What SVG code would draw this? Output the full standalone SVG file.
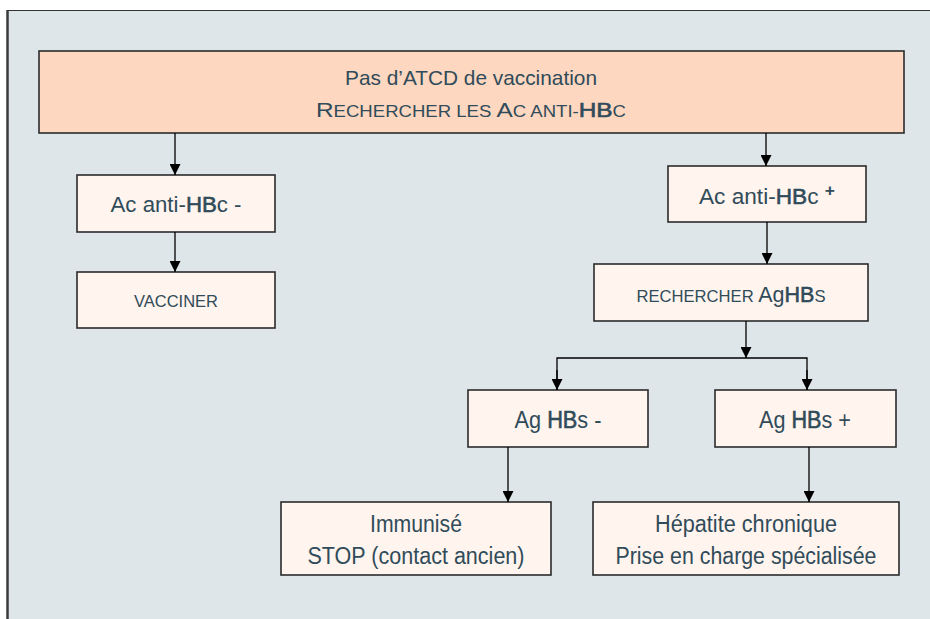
<svg xmlns="http://www.w3.org/2000/svg" width="930" height="619" viewBox="0 0 930 619">
<defs>
<marker id="ah" viewBox="0 0 10 10" refX="10" refY="5" markerWidth="11" markerHeight="11" markerUnits="userSpaceOnUse" orient="auto">
<path d="M0,0 L10,5 L0,10 z" fill="#000"/>
</marker>
</defs>
<style>
.box{fill:#fff4ee;stroke:#2b2b2b;stroke-width:1.6}
.top{fill:#fdd7c0;stroke:#2b2b2b;stroke-width:1.6}
.t{font-family:"Liberation Sans",Arial,sans-serif;fill:#304b59;text-anchor:middle}
.b{stroke:#304b59;stroke-width:0.6}
.c{stroke:#000;stroke-width:1.3;fill:none}
</style>
<rect x="0" y="0" width="930" height="619" fill="#ffffff"/>
<rect x="7" y="10" width="930" height="620" fill="#dfe6e9"/>
<line x1="7" y1="10.5" x2="930" y2="10.5" stroke="#333" stroke-width="1"/>
<line x1="7.5" y1="10" x2="7.5" y2="619" stroke="#3a3a3a" stroke-width="2.5"/>

<g id="node-top">
<rect class="top" x="39" y="51" width="865" height="82"/>
<text class="t" x="471" y="85" font-size="21" textLength="252" lengthAdjust="spacingAndGlyphs">Pas d’ATCD de vaccination</text>
<text class="t" x="471" y="117" font-size="21" textLength="310" lengthAdjust="spacingAndGlyphs">R<tspan font-size="16">ECHERCHER LES </tspan>A<tspan font-size="16">C ANTI-</tspan><tspan class="b">HB</tspan><tspan font-size="16">C</tspan></text>
</g>

<g id="node-ac-neg">
<rect class="box" x="77" y="175" width="198" height="57"/>
<text class="t" x="176" y="212" font-size="22" textLength="131" lengthAdjust="spacingAndGlyphs">Ac anti-<tspan class="b">HB</tspan>c -</text>
</g>

<g id="node-vacciner">
<rect class="box" x="77" y="272" width="198" height="56"/>
<text class="t" x="176" y="307" font-size="17" textLength="84" lengthAdjust="spacingAndGlyphs">VACCINER</text>
</g>

<g id="node-ac-pos">
<rect class="box" x="668" y="166" width="198" height="56"/>
<text class="t" x="767" y="204" font-size="22" textLength="136" lengthAdjust="spacingAndGlyphs">Ac anti-<tspan class="b">HB</tspan>c <tspan font-weight="bold" font-size="17" dy="-8">+</tspan></text>
</g>

<g id="node-rechercher">
<rect class="box" x="594" y="264" width="274" height="57"/>
<text class="t" x="731" y="302" font-size="22" textLength="189" lengthAdjust="spacingAndGlyphs"><tspan font-size="17">RECHERCHER </tspan>Ag<tspan class="b">HB</tspan><tspan font-size="17">S</tspan></text>
</g>

<g id="node-ag-neg">
<rect class="box" x="468" y="390" width="180" height="57"/>
<text class="t" x="558" y="428" font-size="23" textLength="87" lengthAdjust="spacingAndGlyphs">Ag <tspan class="b">HB</tspan>s -</text>
</g>

<g id="node-ag-pos">
<rect class="box" x="715" y="390" width="181" height="57"/>
<text class="t" x="805" y="428" font-size="23" textLength="92" lengthAdjust="spacingAndGlyphs">Ag <tspan class="b">HB</tspan>s +</text>
</g>

<g id="node-immunise">
<rect class="box" x="281" y="502" width="270" height="73"/>
<text class="t" x="416" y="532" font-size="23" textLength="92" lengthAdjust="spacingAndGlyphs">Immunisé</text>
<text class="t" x="416" y="564" font-size="23" textLength="217" lengthAdjust="spacingAndGlyphs">STOP (contact ancien)</text>
</g>

<g id="node-hepatite">
<rect class="box" x="593" y="502" width="306" height="73"/>
<text class="t" x="746" y="532" font-size="23" textLength="182" lengthAdjust="spacingAndGlyphs">Hépatite chronique</text>
<text class="t" x="746" y="564" font-size="23" textLength="261" lengthAdjust="spacingAndGlyphs">Prise en charge spécialisée</text>
</g>

<g id="connectors">
<line class="c" x1="175" y1="133" x2="175" y2="175" marker-end="url(#ah)"/>
<line class="c" x1="766" y1="133" x2="766" y2="166" marker-end="url(#ah)"/>
<line class="c" x1="175" y1="232" x2="175" y2="272" marker-end="url(#ah)"/>
<line class="c" x1="767" y1="222" x2="767" y2="264" marker-end="url(#ah)"/>
<line class="c" x1="746" y1="321" x2="746" y2="358" marker-end="url(#ah)"/>
<polyline class="c" points="557,390 557,358 807,358 807,390"/>
<line class="c" x1="557" y1="370" x2="557" y2="390" marker-end="url(#ah)"/>
<line class="c" x1="807" y1="370" x2="807" y2="390" marker-end="url(#ah)"/>
<line class="c" x1="508" y1="447" x2="508" y2="502" marker-end="url(#ah)"/>
<line class="c" x1="809" y1="447" x2="809" y2="502" marker-end="url(#ah)"/>
</g>
</svg>
